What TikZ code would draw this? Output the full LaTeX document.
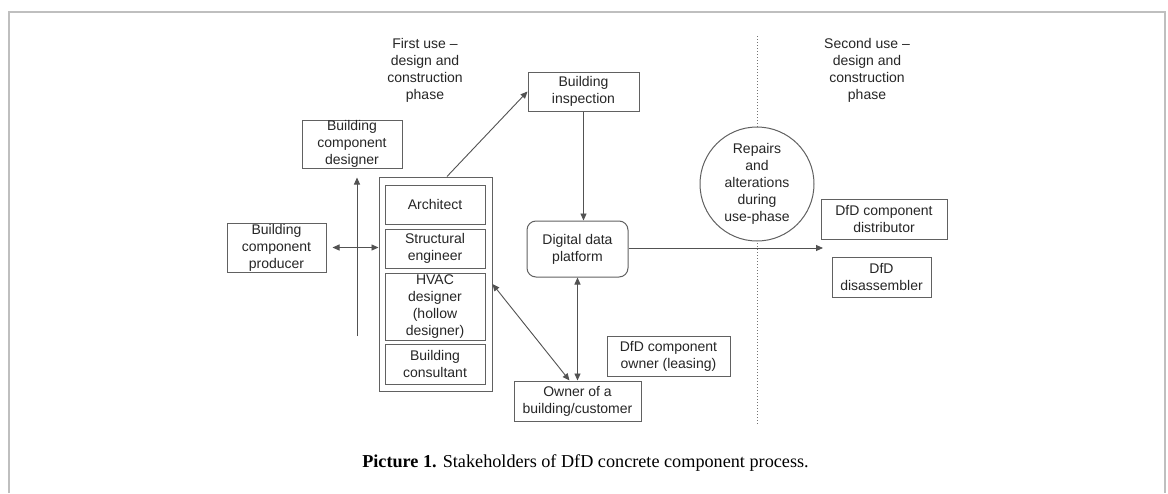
\documentclass[tikz,border=0pt]{standalone}
\usepackage{fontspec}
\setmainfont{Liberation Serif}
\setsansfont{Liberation Sans}
\usetikzlibrary{arrows.meta,positioning}

\tikzset{
  box/.style={draw=black!62,line width=1pt,inner sep=0pt,align=center,
    font=\sffamily\fontsize{14}{17}\selectfont,text=black!85},
  phasetext/.style={align=center,inner sep=0pt,
    font=\sffamily\fontsize{14}{17}\selectfont,text=black!85},
  link/.style={draw=black!68,line width=0.9pt},
  tip/.style={-{Triangle[length=7pt,width=6pt]}},
  twotip/.style={{Triangle[length=7pt,width=6pt]}-{Triangle[length=7pt,width=6pt]}}
}

\begin{document}
\begin{tikzpicture}[x=1pt,y=-1pt]
\useasboundingbox (0,0) rectangle (1168,493);
\fill[white] (0,0) rectangle (1168,493);
% frame round the figure, open at the bottom
\draw[black!25,line width=2pt] (9,493) -- (9,12) -- (1165,12) -- (1165,493);

% phase headings and the dotted divider
\node[phasetext] (first) at (425,70) {First use --\\design and\\construction\\phase};
\node[phasetext] (second) at (867,70) {Second use --\\design and\\construction\\phase};
\draw[black!55,line width=1pt,dotted] (757,36) -- (757,424);

% first use stakeholders
\node[box,minimum width=113pt,minimum height=214pt] (team) at (435.5,284) {};
\node[box,minimum width=100pt,minimum height=39pt] (architect) at (435,204.5) {Architect};
\node[box,minimum width=100pt,minimum height=39pt] (structural) at (435,248.5) {Structural\\engineer};
\node[box,minimum width=100pt,minimum height=67pt] (hvac) at (435,306.5) {HVAC\\designer\\(hollow\\designer)};
\node[box,minimum width=100pt,minimum height=40pt] (consultant) at (435,364) {Building\\consultant};

\node[box,minimum width=100pt,minimum height=48pt] (designer) at (352,144) {Building\\component\\designer};
\node[box,minimum width=99pt,minimum height=49pt] (producer) at (276.5,247.5) {Building\\component\\producer};
\node[box,minimum width=111pt,minimum height=39pt] (inspect) at (583.5,91.5) {Building\\inspection};
\node[box,rounded corners=9pt,minimum width=101pt,minimum height=56pt] (platform) at (577.5,249) {Digital data\\platform};
\node[box,minimum width=127pt,minimum height=40pt] (owner) at (577.5,401) {Owner of a\\building/customer};
\node[box,minimum width=123pt,minimum height=40pt] (leasing) at (668.5,356) {DfD component\\owner (leasing)};

% second use
\node[box,circle,fill=white,minimum size=114pt] (repairs) at (757,184) {Repairs\\and\\alterations\\during\\use-phase};
\node[box,minimum width=126pt,minimum height=40pt] (distributor) at (884,219) {DfD component\\distributor};
\node[box,minimum width=99pt,minimum height=40pt] (disassembler) at (881.5,277) {DfD\\disassembler};

% connectors
\coordinate (riser) at (357,336);
\coordinate (handover) at (823,248);
\draw[link,tip,shorten >=9pt] (riser) -- (riser |- designer.south);
\draw[link,twotip,shorten <=6pt] (producer.east) -- (producer.east -| team.west);
\draw[link,tip] ([xshift=11.5pt]team.north) -- (inspect.west);
\draw[link,tip] (inspect.south) -- (inspect.south |- platform.north);
\draw[link,tip] (platform.east |- handover) -- (handover);
\draw[link,twotip] (team.east) -- ([xshift=-8pt]owner.north);
\draw[link,twotip] (platform.south) -- (owner.north);

% caption
\node[inner sep=0pt,font=\fontsize{18.2}{22}\selectfont] (caption) at (585.5,463)
  {\textbf{Picture 1.} Stakeholders of DfD concrete component process.};
\end{tikzpicture}
\end{document}
